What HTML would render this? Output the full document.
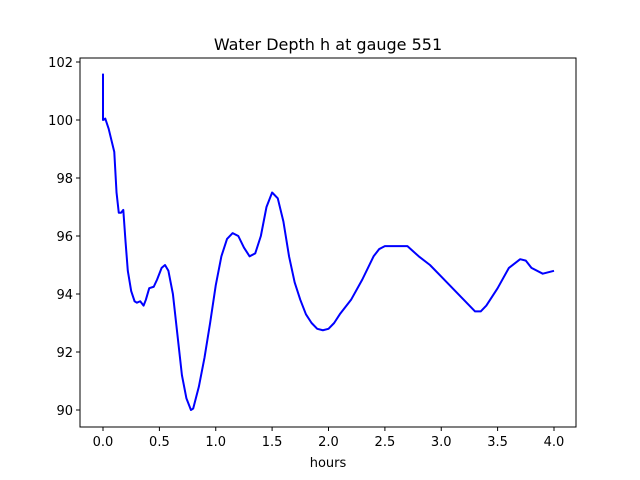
<!DOCTYPE html>
<html><head><meta charset="utf-8"><style>body{margin:0;background:#fff}svg{display:block}text{font-family:"DejaVu Sans","Liberation Sans",sans-serif;fill:#000}</style></head>
<body>
<svg width="640" height="480" viewBox="0 0 640 480" xmlns="http://www.w3.org/2000/svg">
<rect width="640" height="480" fill="#fff"/>
<g transform="translate(103,410) scale(112.75,-29)">
<polyline fill="none" stroke="#0000ff" stroke-width="2" vector-effect="non-scaling-stroke" stroke-linejoin="round" points="0,11.6 0,10 0.02,10.05 0.05,9.7 0.1,8.9 0.12,7.5 0.14,6.8 0.16,6.8 0.18,6.9 0.2,5.8 0.22,4.8 0.25,4.1 0.28,3.75 0.3,3.7 0.33,3.75 0.36,3.6 0.38,3.8 0.41,4.2 0.45,4.25 0.48,4.5 0.52,4.9 0.55,5.0 0.58,4.8 0.62,4.0 0.66,2.6 0.7,1.2 0.74,0.4 0.78,0 0.8,0.05 0.85,0.8 0.9,1.8 0.95,3.0 1.0,4.3 1.05,5.3 1.1,5.9 1.15,6.1 1.2,6.0 1.25,5.6 1.3,5.3 1.35,5.4 1.4,6.0 1.45,7.0 1.5,7.5 1.55,7.3 1.6,6.5 1.65,5.3 1.7,4.4 1.75,3.8 1.8,3.3 1.85,3.0 1.9,2.8 1.95,2.75 2.0,2.8 2.05,3.0 2.1,3.3 2.2,3.8 2.3,4.5 2.4,5.3 2.45,5.55 2.5,5.65 2.6,5.65 2.7,5.65 2.8,5.3 2.9,5.0 3.0,4.6 3.1,4.2 3.2,3.8 3.3,3.4 3.35,3.4 3.4,3.6 3.5,4.2 3.6,4.9 3.7,5.2 3.75,5.15 3.8,4.9 3.9,4.7 4.0,4.8"/>
</g>
<rect x="80" y="58" width="496" height="369" fill="none" stroke="#000" stroke-width="1"/>
<g stroke="#000" stroke-width="1">
<line x1="103" y1="427" x2="103" y2="431"/><line x1="159.4" y1="427" x2="159.4" y2="431"/><line x1="215.75" y1="427" x2="215.75" y2="431"/><line x1="272.1" y1="427" x2="272.1" y2="431"/><line x1="328.5" y1="427" x2="328.5" y2="431"/><line x1="384.9" y1="427" x2="384.9" y2="431"/><line x1="441.25" y1="427" x2="441.25" y2="431"/><line x1="497.6" y1="427" x2="497.6" y2="431"/><line x1="554" y1="427" x2="554" y2="431"/>
<line x1="76" y1="410" x2="80" y2="410"/><line x1="76" y1="352" x2="80" y2="352"/><line x1="76" y1="294" x2="80" y2="294"/><line x1="76" y1="236" x2="80" y2="236"/><line x1="76" y1="178" x2="80" y2="178"/><line x1="76" y1="120" x2="80" y2="120"/><line x1="76" y1="62" x2="80" y2="62"/>
</g>
<g font-size="13" text-anchor="middle">
<text x="103" y="446">0.0</text><text x="159.4" y="446">0.5</text><text x="215.75" y="446">1.0</text><text x="272.1" y="446">1.5</text><text x="328.5" y="446">2.0</text><text x="384.9" y="446">2.5</text><text x="441.25" y="446">3.0</text><text x="497.6" y="446">3.5</text><text x="554" y="446">4.0</text>
<text x="328" y="467">hours</text>
</g>
<g font-size="13" text-anchor="end">
<text x="73" y="415">90</text><text x="73" y="357">92</text><text x="73" y="299">94</text><text x="73" y="241">96</text><text x="73" y="183">98</text><text x="73" y="125">100</text><text x="73" y="67">102</text>
</g>
<text x="328" y="50" font-size="16" text-anchor="middle">Water Depth h at gauge 551</text>
</svg>
</body></html>
